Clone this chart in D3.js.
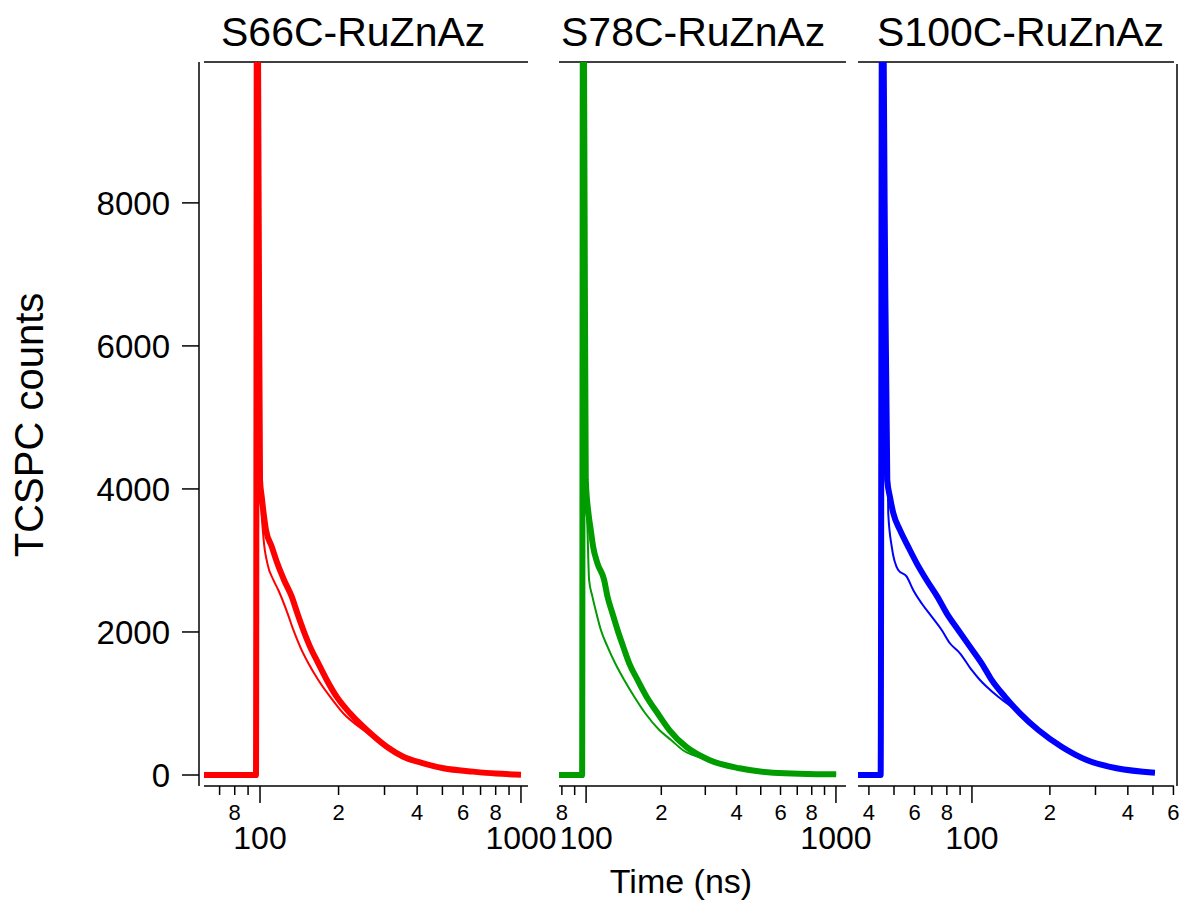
<!DOCTYPE html>
<html>
<head>
<meta charset="utf-8">
<script src="https://cdn.jsdelivr.net/npm/d3@7"></script>
<style>
  html, body { margin: 0; padding: 0; background: #fff; }
  svg { display: block; font-family: "Liberation Sans", Arial, Helvetica, sans-serif; }
</style>
</head>
<body>
<div id="chart"></div>
<script>
'use strict';

// ─── Data (time in ns, TCSPC counts) ──────────────────────────────────────────
const TITLES = ['S66C-RuZnAz', 'S78C-RuZnAz', 'S100C-RuZnAz'];

const S66C_THICK = [[61,0],[96.5,0],[97.4,12500],[98.8,8000],[100,4126],[101.5,3893],[105.4,3427],
  [110.9,3193],[116.5,2960],[123.6,2727],[132.3,2494],[139,2261],[146.5,2028],[155.4,1795],
  [167.2,1562],[180.2,1329],[196.6,1095],[221.2,863],[256.6,629],[306,396],[354,256],[423,163],
  [505,94],[656,47],[800,20],[1000,5]];
const S66C_THIN = [[61,0],[96.5,0],[97.4,12500],[98.8,8000],[100.5,4000],[103,3333],[106.7,2960],
  [112.5,2727],[117.5,2587],[127.5,2261],[134.2,2028],[142.4,1795],[153.2,1562],[167.2,1329],
  [185.5,1095],[208.4,863],[248.8,629],[306,396],[354,256],[423,163],[505,94],[656,47],
  [800,20],[1000,5]];

const S78C_THICK = [[77.9,0],[96.4,0],[97.2,12500],[98.6,8000],[99.7,4126],[102.2,3660],[104.4,3427],
  [106.7,3193],[111,2960],[118.1,2727],[121.8,2494],[127.5,2261],[133.6,2028],[140.8,1795],
  [148.8,1562],[160.7,1329],[174.6,1095],[193.3,863],[215.4,629],[251.2,396],[311,210],
  [411,94],[560,33],[1002,9]];
const S78C_THIN = [[77.9,0],[96.4,0],[97.2,12500],[98.6,8000],[100,4000],[101.2,3473],[102.8,2727],
  [106,2494],[110,2261],[114.6,2028],[121.8,1795],[130.7,1562],[142.1,1329],[155.9,1095],
  [172.5,863],[196.3,629],[218.8,490],[243.5,350],[311,210],[411,94],[560,33],[1002,9]];

const S100C_THICK = [[36.3,0],[44.4,0],[45.0,12500],[46.0,8000],[47.1,4126],[48.2,3893],[49.7,3660],
  [52.7,3427],[56.7,3193],[61.2,2960],[66.8,2727],[73.5,2494],[79.9,2261],[88.5,2028],[98.2,1795],
  [109,1562],[119.1,1329],[134,1095],[153.3,863],[180.4,629],[221.9,396],[277.4,210],[362,94],
  [509,33]];
const S100C_THIN = [[36.3,0],[44.4,0],[45.0,12500],[46.0,8000],[47.5,3660],[49.0,3193],[51.9,2867],
  [56.0,2774],[59.3,2587],[63.9,2401],[69.9,2214],[76.4,2028],[82.2,1842],[89.9,1702],[99.7,1469],
  [107.4,1329],[114.0,1235],[126.3,1095],[153.3,863],[180.4,629],[221.9,396],[277.4,210],
  [362,94],[509,33]];

const X_DOMAINS = [[61, 1064], [77.9, 1097], [36.3, 603]];
const Y_DOMAIN  = [0, 9970];
const Y_TICKS   = [0, 2000, 4000, 6000, 8000];
const MINOR_LABELLED = [2, 4, 6, 8];

// ─── Layout / style ──────────────────────────────────────────────────────────
const W = 1182, H = 905;
const PANEL_X  = [[204, 528], [559, 846], [858, 1174]];
const TITLE_X  = [221, 561, 877];
const COLORS   = ['#ff0000', '#009c00', '#0000ff'];
const PLOT_TOP = 62, ZERO_Y = 775, AXIS_Y = 786, YAXIS_X = 199;

const series = [
  [S66C_THICK, S66C_THIN],
  [S78C_THICK, S78C_THIN],
  [S100C_THICK, S100C_THIN],
];

const svg = d3.select('#chart').append('svg').attr('width', W).attr('height', H);

const y = d3.scaleLinear().domain(Y_DOMAIN).range([ZERO_Y, PLOT_TOP]);

// ─── Y axis (left panel only) ────────────────────────────────────────────────
const yAxis = svg.append('g');
yAxis.append('line')
  .attr('x1', YAXIS_X).attr('x2', YAXIS_X)
  .attr('y1', PLOT_TOP).attr('y2', AXIS_Y)
  .attr('stroke', '#000').attr('stroke-width', 1.5);
Y_TICKS.forEach(v => {
  yAxis.append('line')
    .attr('x1', YAXIS_X - 17).attr('x2', YAXIS_X)
    .attr('y1', y(v)).attr('y2', y(v))
    .attr('stroke', '#000').attr('stroke-width', 1.5);
  yAxis.append('text')
    .attr('x', YAXIS_X - 29).attr('y', y(v)).attr('dy', '0.36em')
    .attr('text-anchor', 'end').attr('font-size', 33)
    .text(v);
});

svg.append('text')
  .attr('transform', 'translate(43,425) rotate(-90)')
  .attr('text-anchor', 'middle').attr('font-size', 40)
  .text('TCSPC counts');

svg.append('text')
  .attr('x', 681).attr('y', 893)
  .attr('text-anchor', 'middle').attr('font-size', 34)
  .text('Time (ns)');

// ─── Panels ──────────────────────────────────────────────────────────────────
TITLES.forEach((title, i) => {
  const x = d3.scaleLog().domain(X_DOMAINS[i]).range(PANEL_X[i]);
  const g = svg.append('g');

  g.append('text')
    .attr('x', TITLE_X[i]).attr('y', 46)
    .attr('font-size', 41)
    .text(title);

  // top frame line
  g.append('line')
    .attr('x1', PANEL_X[i][0]).attr('x2', PANEL_X[i][1])
    .attr('y1', PLOT_TOP).attr('y2', PLOT_TOP)
    .attr('stroke', '#000').attr('stroke-width', 1.5);

  // bottom log axis
  g.append('line')
    .attr('x1', PANEL_X[i][0]).attr('x2', PANEL_X[i][1])
    .attr('y1', AXIS_Y).attr('y2', AXIS_Y)
    .attr('stroke', '#000').attr('stroke-width', 1.5);

  const [d0, d1] = X_DOMAINS[i];
  const ticks = [];
  for (let e = Math.floor(Math.log10(d0)); e <= Math.ceil(Math.log10(d1)); e++) {
    for (let k = 1; k <= 9; k++) {
      const v = k * Math.pow(10, e);
      if (v >= d0 && v <= d1) ticks.push({ v, k });
    }
  }
  ticks.forEach(({ v, k }) => {
    const px = x(v);
    g.append('line')
      .attr('x1', px).attr('x2', px)
      .attr('y1', AXIS_Y).attr('y2', AXIS_Y + (k === 1 ? 17 : 9))
      .attr('stroke', '#000').attr('stroke-width', 1.5);
    if (k === 1) {
      g.append('text')
        .attr('x', px).attr('y', 849)
        .attr('text-anchor', 'middle').attr('font-size', 32)
        .text(v);
    } else if (MINOR_LABELLED.includes(k)) {
      g.append('text')
        .attr('x', px).attr('y', 819.5)
        .attr('text-anchor', 'middle').attr('font-size', 22)
        .text(k);
    }
  });

  // clip for traces
  const clipId = `clip${i}`;
  svg.append('clipPath').attr('id', clipId)
    .append('rect')
    .attr('x', PANEL_X[i][0]).attr('y', PLOT_TOP)
    .attr('width', PANEL_X[i][1] - PANEL_X[i][0] + 4)
    .attr('height', AXIS_Y - PLOT_TOP - 4);

  const line = d3.line().x(d => x(d[0])).y(d => y(d[1])).curve(d3.curveMonotoneX);
  const [thick, thin] = series[i];
  const tg = g.append('g').attr('clip-path', `url(#${clipId})`);
  tg.append('path').datum(thick)
    .attr('d', line).attr('fill', 'none')
    .attr('stroke', COLORS[i]).attr('stroke-width', 6)
    .attr('stroke-linejoin', 'round');
  tg.append('path').datum(thin)
    .attr('d', line).attr('fill', 'none')
    .attr('stroke', COLORS[i]).attr('stroke-width', 2)
    .attr('stroke-linejoin', 'round');
});

// right edge line of last panel
svg.append('line')
  .attr('x1', 1177).attr('x2', 1177)
  .attr('y1', PLOT_TOP + 2).attr('y2', AXIS_Y)
  .attr('stroke', '#000').attr('stroke-width', 1.5);
</script>
</body>
</html>
